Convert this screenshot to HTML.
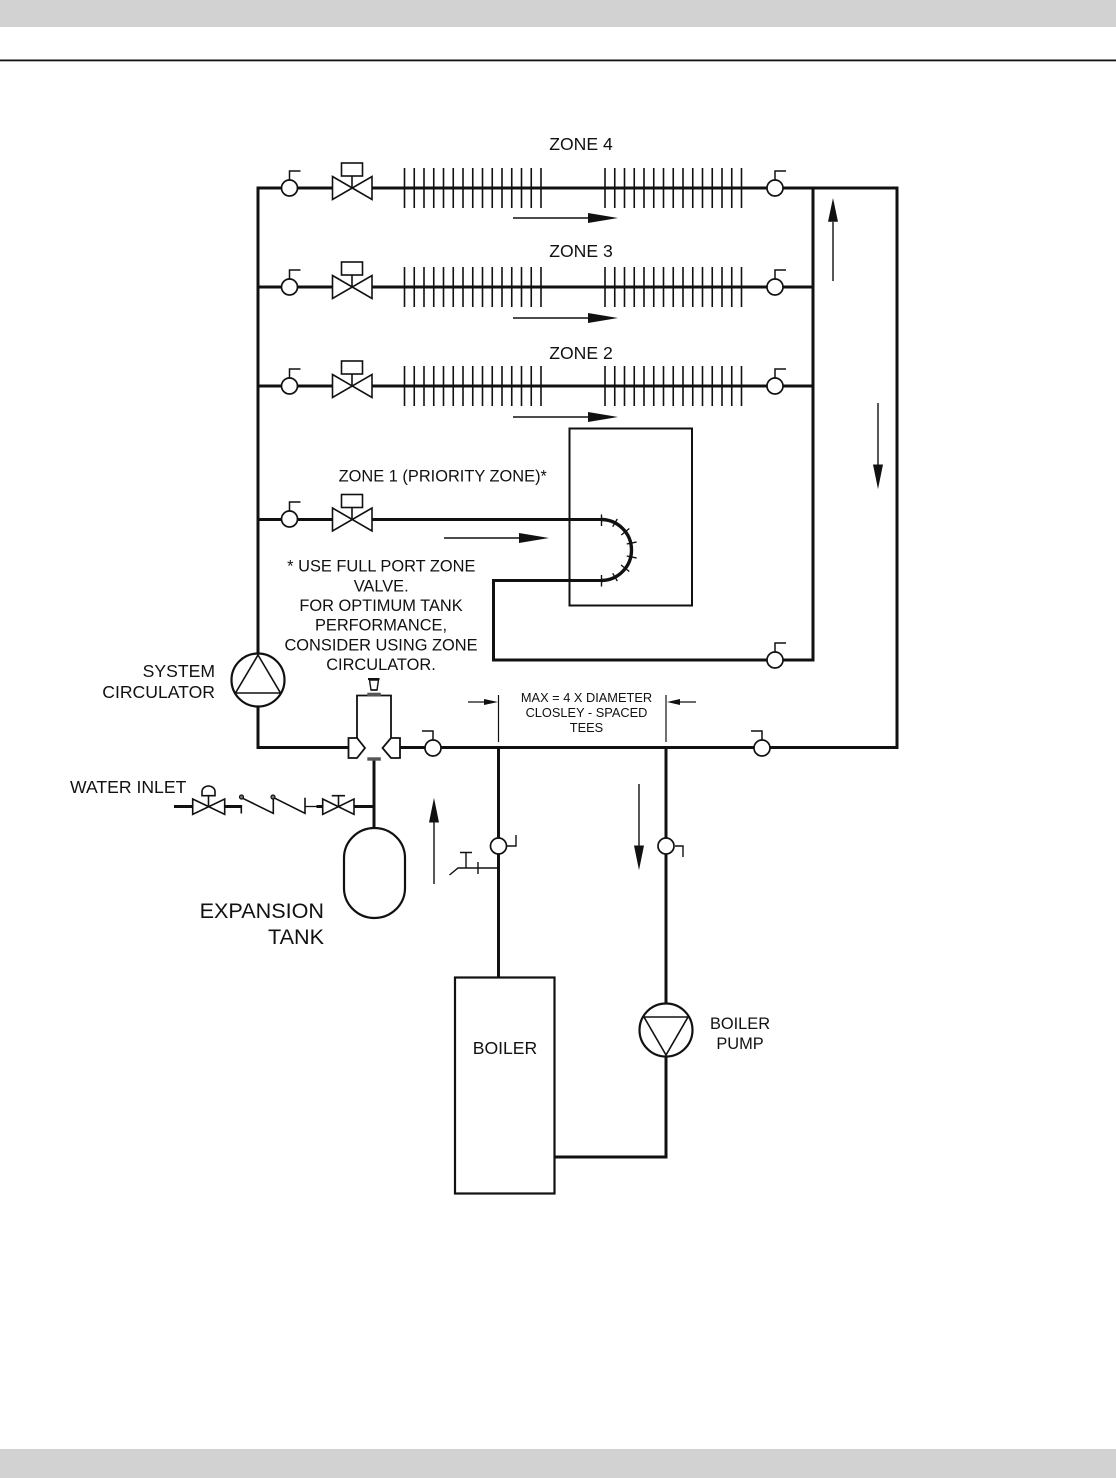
<!DOCTYPE html>
<html><head><meta charset="utf-8"><style>
html,body{margin:0;padding:0;background:#fff}
svg{display:block}
text{font-family:"Liberation Sans",Arial,sans-serif;fill:#111}
</style></head><body>
<svg width="1116" height="1478" viewBox="0 0 1116 1478" xmlns="http://www.w3.org/2000/svg">
<defs>
<g id="fins" stroke="#111" stroke-width="1.6">
<path d="M0 -20V20M9.75 -20V20M19.5 -20V20M29.25 -20V20M39 -20V20M48.75 -20V20M58.5 -20V20M68.25 -20V20M78 -20V20M87.75 -20V20M97.5 -20V20M107.25 -20V20M117 -20V20M126.75 -20V20M136.5 -20V20"/>
</g>
<g id="zv" fill="#fff" stroke="#111" stroke-width="1.6">
<path d="M0 -11.500L39.500 11.500V-11.500L0 11.500Z"/>
<path d="M19.500 0V-12" fill="none"/>
<rect x="9" y="-25" width="21" height="13"/>
</g>
<circle id="c" r="8" fill="#fff" stroke="#111" stroke-width="1.700"/>
<g id="av"><use href="#c"/><path d="M0 -8V-17H11" fill="none" stroke="#111" stroke-width="1.500"/></g>
<g id="avl"><use href="#c"/><path d="M0 -8V-17H-11" fill="none" stroke="#111" stroke-width="1.500"/></g>
<g id="ra"><path d="M0 0H75" stroke="#111" stroke-width="1.400"/><path d="M75 -5L105 0L75 5Z" fill="#111"/></g>
</defs>
<rect width="1116" height="27" fill="#d2d2d2"/>
<rect y="59.500" width="1116" height="1.800" fill="#111"/>
<rect y="1449" width="1116" height="29" fill="#d2d2d2"/>

<g fill="none" stroke="#111" stroke-width="3">
<path d="M258 655V188H333M372 188H897V747.500H399M350 747.500H258V705"/>
<path d="M258 287H333M372 287H813M258 386H333M372 386H813"/>
<path d="M813 188V660H493.500V580.500H601M258 519.500H333M372 519.500H601" />
<path d="M601 519.500A30.500 30.500 0 0 1 601 580.500" stroke-width="3.400"/>
<path d="M498.500 747V977M666 747V1005M666 1056V1157H554"/>
<path d="M374 760V828M354 806.500H374M174 806.500H192M224 806.500H241M316.500 806.500H322.500"/>
</g>

<rect x="569.500" y="428.500" width="122.500" height="177" fill="none" stroke="#111" stroke-width="2"/>
<g stroke="#111" stroke-width="1.400" fill="none">
<path d="M601.500 514.500V526M612.700 526.700L617.300 519M621.300 535L629.300 528.500M626.700 544L636.700 542M626.700 556L636.700 558M621 565L629.300 571.500M612.700 573.300L617.300 581M601.500 575V586.500"/>
</g>

<use href="#fins" x="404.500" y="188"/><use href="#fins" x="605" y="188"/>
<use href="#fins" x="404.500" y="287"/><use href="#fins" x="605" y="287"/>
<use href="#fins" x="404.500" y="386"/><use href="#fins" x="605" y="386"/>

<use href="#zv" x="332.500" y="188"/><use href="#zv" x="332.500" y="287"/><use href="#zv" x="332.500" y="386"/><use href="#zv" x="332.500" y="519.500"/>
<use href="#av" x="289.500" y="188"/><use href="#av" x="289.500" y="287"/><use href="#av" x="289.500" y="386"/><use href="#av" x="289.500" y="519"/>
<use href="#av" x="775" y="188"/><use href="#av" x="775" y="287"/><use href="#av" x="775" y="386"/><use href="#av" x="775" y="660"/>
<use href="#avl" x="433" y="748"/><use href="#avl" x="762" y="748"/>

<use href="#ra" x="513" y="218"/><use href="#ra" x="513" y="318"/><use href="#ra" x="513" y="417"/><use href="#ra" x="444" y="538"/>
<use href="#ra" transform="translate(833 281) rotate(-90) scale(.79 1)"/>
<use href="#ra" transform="translate(878 403) rotate(90) scale(.82 1)"/>
<use href="#ra" transform="translate(434 884) rotate(-90) scale(.82 1)"/>
<use href="#ra" transform="translate(639 784) rotate(90) scale(.82 1)"/>

<!-- circulators -->
<g fill="#fff" stroke="#111" stroke-width="2.200">
<circle cx="258" cy="680" r="26.500"/>
<path d="M258 655L280.500 693H235.500Z" stroke-width="1.600"/>
<circle cx="666" cy="1030" r="26.500"/>
<path d="M666 1055L644 1017H688Z" stroke-width="1.600"/>
</g>

<!-- air separator -->
<g fill="none" stroke="#111" stroke-width="1.800">
<path d="M357 738V695.500H391V738"/>
<path d="M357 738H348.500V758H357L365 748Z" fill="#fff"/>
<path d="M391 738H400V758H391L382.500 748Z" fill="#fff"/>
<path d="M371 690L369.500 680H378.500L377 690Z" stroke-width="1.400"/>
<path d="M368 679H379.500" stroke-width="2"/>
<path d="M371 690H377" stroke-width="1.400"/>
</g>
<rect x="367.300" y="692.700" width="13.500" height="3.300" fill="#555"/>
<rect x="367.300" y="757.300" width="13.500" height="3.400" fill="#555"/>

<!-- water inlet -->
<g fill="#fff" stroke="#111" stroke-width="1.600">
<path d="M192.700 799L224.700 814.300V799L192.700 814.300Z"/>
<path d="M208.500 806.500V796M202 795.700V791.500A6.500 5.500 0 0 1 215 791.500V795.700Z"/>
<path d="M241.300 805V813.500"/>
<path d="M241.500 797.700L273.300 813.300V797.300M273 797.300L305 813.300V797.700" fill="none"/>
<circle cx="241.500" cy="797" r="2" fill="#777" stroke-width="1.200"/><circle cx="273" cy="797" r="2" fill="#777" stroke-width="1.200"/>
<path d="M305 806.500H317" fill="none" stroke-width="1.300"/>
<path d="M322.700 799L354 814.300V799L322.700 814.300Z"/>
<path d="M338.500 806.500V795.700M331.700 795.700H345" fill="none"/>
</g>
<rect x="344" y="828" width="61" height="90" rx="30.500" ry="30" fill="#fff" stroke="#111" stroke-width="2.200"/>

<!-- dimensions -->
<g stroke="#111" stroke-width="1.200" fill="none">
<path d="M498.500 695V742M666 695V742M468 702H485M680 702H696"/>
</g>
<path d="M484 699L498 702L484 705Z M680 699L667 702L680 705Z" fill="#111"/>

<!-- sensors + drain -->
<use href="#c" x="498.500" y="846"/><use href="#c" x="666" y="846"/>
<g fill="none" stroke="#111" stroke-width="1.400">
<path d="M507 846H516V835M675 846H683V857"/>
<path d="M449.500 875L458 868H498M466 868V852.500M460 852.500H472M478 862V874"/>
</g>

<rect x="455" y="977.500" width="99.500" height="216" fill="#fff" stroke="#111" stroke-width="2.200"/>

<g font-size="17.600">
<text x="581" y="150" text-anchor="middle">ZONE 4</text>
<text x="581" y="257" text-anchor="middle">ZONE 3</text>
<text x="581" y="359" text-anchor="middle">ZONE 2</text>
<text x="215" y="677" text-anchor="end">SYSTEM</text>
<text x="215" y="698" text-anchor="end">CIRCULATOR</text>
<text x="70" y="793">WATER INLET</text>
<text x="505" y="1054" text-anchor="middle">BOILER</text>
</g>
<g font-size="16.400">
<text x="442.800" y="481.700" text-anchor="middle">ZONE 1 (PRIORITY ZONE)*</text>
<text x="381.300" y="571.700" text-anchor="middle">* USE FULL PORT ZONE</text>
<text x="381.200" y="591.700" text-anchor="middle">VALVE.</text>
<text x="381" y="611" text-anchor="middle">FOR OPTIMUM TANK</text>
<text x="381" y="630.700" text-anchor="middle">PERFORMANCE,</text>
<text x="381" y="650.500" text-anchor="middle">CONSIDER USING ZONE</text>
<text x="381" y="670" text-anchor="middle">CIRCULATOR.</text>
<text x="740" y="1029" text-anchor="middle">BOILER</text>
<text x="740" y="1049" text-anchor="middle">PUMP</text>
</g>
<g font-size="12.800">
<text x="586.500" y="702" text-anchor="middle">MAX = 4 X DIAMETER</text>
<text x="586.500" y="717" text-anchor="middle">CLOSLEY - SPACED</text>
<text x="586.500" y="732" text-anchor="middle">TEES</text>
</g>
<g font-size="21.600">
<text x="324" y="918" text-anchor="end">EXPANSION</text>
<text x="324" y="944" text-anchor="end">TANK</text>
</g>
</svg>
</body></html>
